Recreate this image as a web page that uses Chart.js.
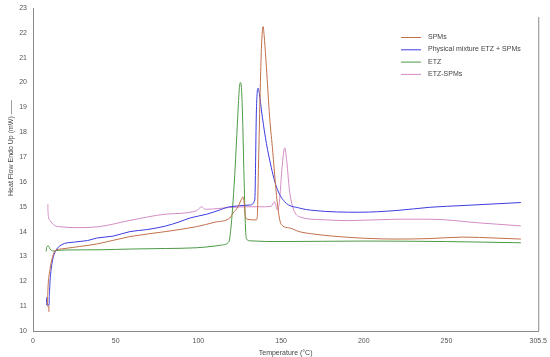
<!DOCTYPE html>
<html>
<head>
<meta charset="utf-8">
<script src="https://cdn.jsdelivr.net/npm/chart.js@4"></script>
<style>
  html, body { margin: 0; padding: 0; background: #fff; }
  #wrap { width: 550px; height: 357px; }
</style>
</head>
<body>
<div id="wrap"><canvas id="dsc" width="550" height="357"></canvas></div>
<script>
const seriesNames = ['SPMs', 'Physical mixture ETZ + SPMs', 'ETZ', 'ETZ-SPMs'];
const seriesColors = ['#c0704a', '#3c3ce0', '#4c9a44', '#d48cc4'];

// temperature (°C) / heat flow (mW)
const spmsT  = [9.6, 9.6, 8.8, 8.8, 9.2, 10.3, 11.5, 13.3, 17, 28, 38.5, 58.6, 80, 98.9, 110, 119, 121, 124, 126, 127, 127.8, 128.5, 129.5, 135, 135.6, 136.3, 137.5, 138.2, 139.1, 140, 141.1, 143.1, 145, 146.5, 148, 150, 155, 161, 170, 181, 201, 220, 240, 260, 280, 295];
const spmsHF = [10.77, 11.0, 11.0, 11.4, 11.9, 12.5, 12.9, 13.22, 13.3, 13.4, 13.5, 13.8, 14.0, 14.2, 14.38, 14.55, 14.75, 15.0, 15.3, 15.4, 15.1, 14.6, 14.5, 14.47, 14.6, 16.5, 20.0, 21.5, 22.25, 21.7, 20.64, 18.6, 17.2, 16.0, 15.0, 14.3, 14.15, 14.0, 13.9, 13.82, 13.73, 13.7, 13.72, 13.78, 13.74, 13.7];

const mixT  = [8.2, 8.2, 9.8, 9.8, 10.3, 11, 12, 13.5, 17, 25, 33, 38.5, 48.5, 58.6, 68.7, 80, 88.8, 95, 105, 112.9, 119, 131, 134.1, 135.1, 136.1, 137, 138.1, 140.5, 143.1, 147.2, 152.2, 161, 170, 197, 220, 240, 260, 295];
const mixHF = [11.35, 11.05, 11.05, 11.4, 12.0, 12.5, 12.9, 13.2, 13.46, 13.58, 13.64, 13.74, 13.82, 14.0, 14.08, 14.22, 14.4, 14.55, 14.7, 14.87, 15.0, 15.07, 15.27, 18.9, 19.77, 19.5, 18.9, 17.8, 16.88, 15.8, 15.2, 14.95, 14.85, 14.78, 14.85, 14.98, 15.05, 15.17];

const etzT  = [8, 8.3, 9.3, 10.3, 12, 14, 20, 40, 60, 80, 98.9, 110, 114, 118.5, 119.6, 120.6, 122, 123, 124, 124.8, 125.4, 126, 126.6, 127.6, 128.3, 129, 131, 150, 200, 250, 295];
const etzHF = [13.2, 13.38, 13.42, 13.3, 13.22, 13.24, 13.26, 13.27, 13.3, 13.32, 13.35, 13.42, 13.46, 13.6, 14.1, 14.87, 16.3, 17.57, 18.9, 19.8, 20.0, 19.8, 18.9, 16.2, 14.47, 13.73, 13.63, 13.6, 13.62, 13.6, 13.55];

const esT  = [9, 9, 9.3, 10.3, 13, 16.3, 28.4, 40, 58.6, 80, 98.9, 101.9, 103.5, 104.9, 119, 130, 140, 144, 146, 147.8, 149, 150.5, 152.2, 153.5, 155, 157, 161, 175, 190, 220, 240, 270, 295];
const esHF = [15.1, 14.85, 14.6, 14.45, 14.25, 14.2, 14.16, 14.2, 14.45, 14.7, 14.84, 15.0, 14.92, 14.9, 14.97, 15.0, 15.0, 15.02, 15.2, 14.87, 15.2, 16.5, 17.37, 16.8, 15.7, 15.0, 14.6, 14.48, 14.44, 14.5, 14.5, 14.35, 14.23];

const xTicks = [0, 50, 100, 150, 200, 250, 305.5];
const yMin = 10, yMax = 23;

const pts = (xs, ys) => xs.map((x, i) => ({ x: x, y: ys[i] }));
const AXIS = '#8a8a8a';
const TXT = '#555';
const FONT = 'Liberation Sans, Arial, sans-serif';

const seriesData = [pts(spmsT, spmsHF), pts(mixT, mixHF), pts(etzT, etzHF), pts(esT, esHF)];

// legend drawn inside the plot, top right, like the instrument software
const innerLegend = {
  id: 'innerLegend',
  afterDraw(chart) {
    const ctx = chart.ctx;
    const x0 = 401;
    ctx.save();
    ctx.font = '7px ' + FONT;
    ctx.textBaseline = 'middle';
    chart.data.datasets.forEach((ds, i) => {
      const y = 37 + i * 12.3;
      ctx.strokeStyle = ds.borderColor;
      ctx.lineWidth = 1;
      ctx.beginPath();
      ctx.moveTo(x0, y + 0.5);
      ctx.lineTo(x0 + 20, y + 0.5);
      ctx.stroke();
      ctx.fillStyle = '#444';
      ctx.fillText(ds.label, x0 + 27, y);
    });
    // right frame line
    ctx.strokeStyle = AXIS;
    ctx.beginPath();
    ctx.moveTo(chart.chartArea.right + 0.5, 17);
    ctx.lineTo(chart.chartArea.right + 0.5, chart.chartArea.bottom);
    ctx.stroke();
    ctx.restore();
  }
};

// leading nbsp push the rotated title up a little, as in the original
const yTitle = '\u00a0'.repeat(22) + 'Heat Flow Endo Up (mW) ——';

new Chart(document.getElementById('dsc'), {
  type: 'scatter',
  data: {
    datasets: seriesData.map((d, i) => ({
      label: seriesNames[i],
      data: d,
      showLine: true,
      borderColor: seriesColors[i],
      backgroundColor: seriesColors[i],
      borderWidth: 1,
      pointRadius: 0,
      cubicInterpolationMode: 'monotone',
    })),
  },
  options: {
    responsive: false,
    animation: false,
    layout: { padding: { left: 0, right: 11, top: 8, bottom: 0 } },
    plugins: { legend: { display: false }, tooltip: { enabled: false } },
    scales: {
      x: {
        type: 'linear', min: 0, max: 305.5,
        afterBuildTicks: axis => { axis.ticks = xTicks.map(v => ({ value: v })); },
        afterFit: axis => { axis.height = 26; },
        grid: { display: false, drawTicks: true, tickLength: 3, tickColor: AXIS },
        border: { color: AXIS },
        ticks: { color: TXT, font: { family: FONT, size: 7 }, padding: 3, maxRotation: 0, autoSkip: false,
                 callback: v => String(v) },
        title: { display: true, text: 'Temperature (°C)', color: '#444', font: { family: FONT, size: 7 }, padding: { top: 2, bottom: 0 } },
      },
      y: {
        min: yMin, max: yMax,
        afterFit: axis => { axis.width = 33; },
        grid: { display: false, drawTicks: true, tickLength: 3, tickColor: AXIS },
        border: { color: AXIS },
        ticks: { stepSize: 1, autoSkip: false, color: TXT, font: { family: FONT, size: 7 }, padding: 3 },
        title: { display: true, text: yTitle, color: '#444', font: { family: FONT, size: 7 }, padding: { top: 7, bottom: 0 } },
      },
    },
  },
  plugins: [innerLegend],
});
</script>
</body>
</html>
